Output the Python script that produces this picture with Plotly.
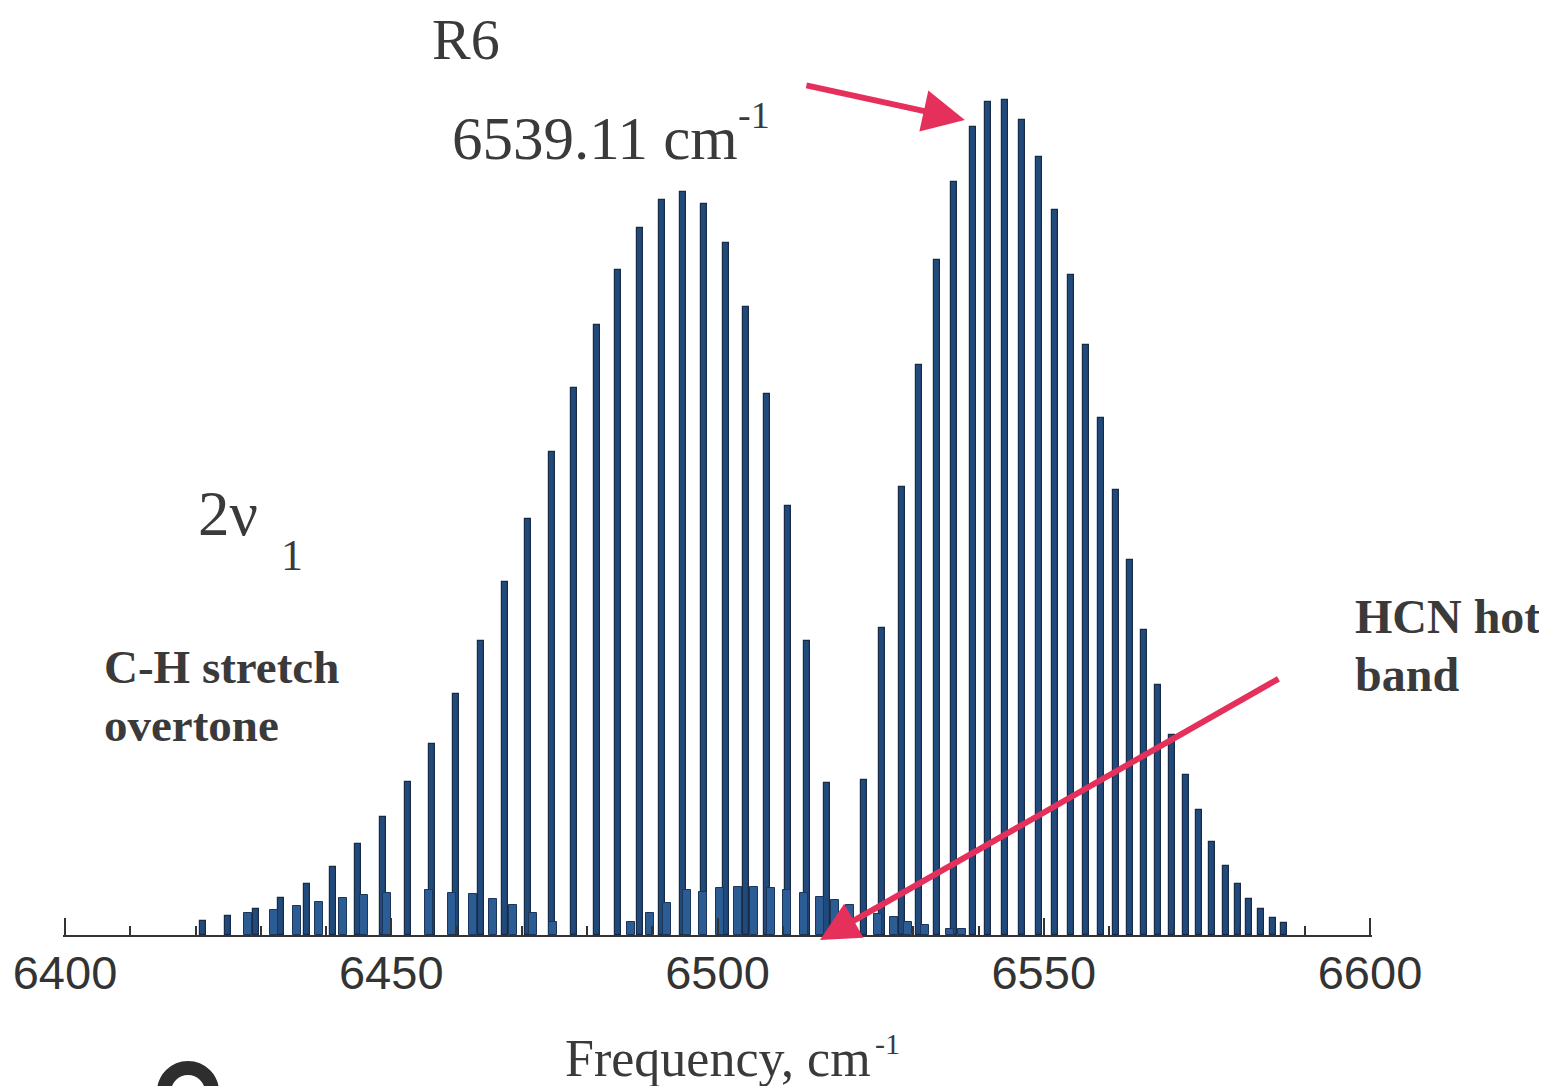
import plotly.graph_objects as go

# ---------------- data ----------------
# Main band 2nu1 lines: frequency (cm-1) and relative intensity (tallest = 100)
p_branch_freq = [6421.15, 6424.98, 6429.27, 6433.10, 6437.09, 6441.07, 6444.90, 6448.74,
                 6452.57, 6456.25, 6459.92, 6463.75, 6467.43, 6470.96, 6474.64, 6478.01,
                 6481.53, 6484.75, 6488.12, 6491.49, 6494.71, 6497.93, 6501.30, 6504.37,
                 6507.59, 6510.80, 6513.72, 6516.78]
p_branch_int = [1.7, 2.3, 3.1, 4.4, 6.1, 8.1, 10.9, 14.1,
                18.3, 22.9, 28.9, 35.2, 42.3, 49.8, 57.8, 65.5,
                73.1, 79.6, 84.7, 88.0, 89.0, 87.5, 82.9, 75.2,
                64.8, 51.4, 35.2, 18.2]

r_branch_freq = [6522.45, 6525.21, 6528.28, 6530.88, 6533.64, 6536.25, 6539.11, 6541.46,
                 6544.06, 6546.67, 6549.27, 6551.72, 6554.18, 6556.48, 6558.77, 6561.07,
                 6563.22, 6565.36, 6567.51, 6569.66, 6571.80, 6573.79, 6575.79, 6577.93,
                 6579.77, 6581.46, 6583.30, 6585.13, 6586.82]
r_branch_int = [18.6, 36.8, 53.7, 68.3, 80.8, 90.2, 96.8, 99.8,
                100.0, 97.6, 93.2, 86.8, 79.0, 70.7, 61.9, 53.3,
                44.9, 36.5, 29.9, 24.0, 19.2, 15.0, 11.1, 8.3,
                6.1, 4.3, 3.1, 2.0, 1.4]

# HCN hot band lines
hot_freq = [6428.05, 6432.03, 6435.56, 6438.93, 6442.61, 6445.82, 6449.35, 6455.79,
            6459.31, 6462.53, 6465.59, 6468.66, 6471.72, 6474.79, 6486.74, 6489.66,
            6492.26, 6495.33, 6497.78, 6500.38, 6503.14, 6505.59, 6508.20, 6510.65,
            6513.26, 6515.71, 6518.01, 6520.31, 6524.60, 6527.05, 6529.20, 6531.80,
            6535.63, 6537.47]
hot_int = [2.6, 3.0, 3.5, 4.0, 4.4, 4.8, 5.0, 5.4,
           5.0, 4.9, 4.3, 3.6, 2.6, 1.6, 1.6, 2.6,
           3.8, 5.4, 5.1, 5.6, 5.7, 5.7, 5.6, 5.4,
           5.0, 4.6, 4.2, 3.6, 2.5, 2.2, 1.6, 1.2,
           0.7, 0.7]

x_ticks = [6400, 6450, 6500, 6550, 6600]
x_tick_labels = ["6400", "6450", "6500", "6550", "6600"]
x_lo, x_hi = 6400, 6600
major_step = 50
minor_step = 10

R6_FREQ = 6539.11

# ---------------- figure ----------------
# the page has an 8 px body margin, so the figure is 8 px smaller on each axis
OFF = 8
SCALE = 1305 / (x_hi - x_lo)        # px per cm-1
PAD = 2                              # px of extra axis on each end so end ticks are kept
W, H = 1547 - OFF, 1086 - OFF
ML, MT = 65 - OFF - PAD, 85 - OFF
PW, PH = 1305 + 2 * PAD, 850
MR, MB = W - ML - PW, H - MT - PH
x_range = [x_lo - PAD / SCALE, x_hi + PAD / SCALE]
YMAX = 101.8


def px_x(px):  # screen pixel -> paper fraction
    return (px - OFF - ML) / PW


def px_y(py):
    return (MT + PH + OFF - py) / PH


ink = "#3a3a3a"
axc = "#333333"
red = "#e5305c"

fig = go.Figure()
fig.add_trace(go.Bar(
    x=p_branch_freq + r_branch_freq, y=p_branch_int + r_branch_int, width=0.9,
    name="2nu1", xaxis="x2", yaxis="y",
    marker=dict(color="#20497c", line=dict(color="#182a44", width=1.2)),
))
fig.add_trace(go.Bar(
    x=hot_freq, y=hot_int, width=1.15, name="hot band", xaxis="x3", yaxis="y",
    marker=dict(color="#2b5c94", line=dict(color="#1d3558", width=1)),
))

tick_axis_common = dict(
    range=x_range, overlaying="x", anchor="y", side="bottom",
    tickmode="linear", tick0=x_lo,
    ticks="inside", tickwidth=2, tickcolor=axc,
    showticklabels=False, showline=False, showgrid=False, zeroline=False,
    automargin=False,
)

fig.update_layout(
    width=W, height=H,
    margin=dict(l=ML, r=MR, t=MT, b=MB, autoexpand=False),
    paper_bgcolor="white", plot_bgcolor="white",
    barmode="overlay", bargap=0,
    showlegend=False,
    xaxis=dict(
        range=x_range, tickmode="array", tickvals=x_ticks, ticktext=x_tick_labels,
        ticks="", showline=True, linecolor=axc, linewidth=2,
        showgrid=False, zeroline=False, automargin=False,
        tickfont=dict(family="Liberation Sans, Arial, sans-serif", size=47, color=axc),
        ticklabelstandoff=-4,
    ),
    xaxis2=dict(dtick=major_step, ticklen=17, **tick_axis_common),
    xaxis3=dict(dtick=minor_step, ticklen=9, **tick_axis_common),
    yaxis=dict(range=[0, YMAX], visible=False, fixedrange=True),
)

serif = "Liberation Serif, Times New Roman, serif"


def text(t, xp, yp, size, bold=False, anchor="left"):
    fig.add_annotation(
        text=f"<b>{t}</b>" if bold else t, xref="paper", yref="paper",
        x=px_x(xp), y=px_y(yp), xanchor=anchor, yanchor="middle",
        showarrow=False, font=dict(family=serif, size=size, color=ink),
    )


text("R6", 430, 40, 58)
text("6539.11 cm", 450, 139, 61)
text("-1", 736, 115, 38)
text("2ν", 196, 514, 63)
text("1", 279, 555, 44)
text("C-H stretch", 102, 667, 47, bold=True)
text("overtone", 102, 725, 47, bold=True)
text("HCN hot", 1353, 616, 48, bold=True)
text("band", 1353, 674, 48, bold=True)
text("Frequency, cm", 563, 1058, 52)
text("-1", 873, 1043, 30)

# cut-off dark glyph fragment at the bottom-left edge
fig.add_shape(type="circle", xref="paper", yref="paper",
              x0=px_x(164), x1=px_x(212), y0=px_y(1116), y1=px_y(1068),
              line=dict(color="#2e2e2e", width=14), fillcolor="rgba(0,0,0,0)")

# arrows
fig.add_annotation(
    x=R6_FREQ - 1.2, y=px_y(120), xref="x", yref="paper",
    ax=-160, ay=-35, axref="pixel", ayref="pixel",
    showarrow=True, arrowhead=2, arrowsize=1.4, arrowwidth=6, arrowcolor=red, text="",
)
fig.add_annotation(
    x=6515.7, y=px_y(940), xref="x", yref="paper",
    ax=460, ay=-262, axref="pixel", ayref="pixel",
    showarrow=True, arrowhead=2, arrowsize=1.3, arrowwidth=6, arrowcolor=red, text="",
)

fig.write_html("out.html")
